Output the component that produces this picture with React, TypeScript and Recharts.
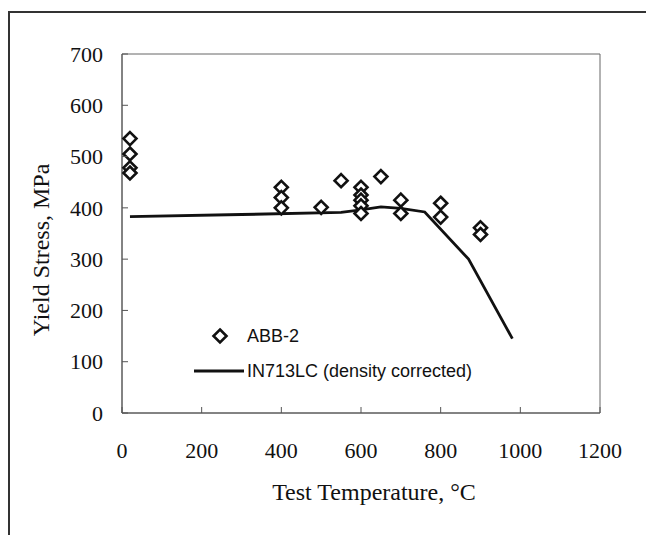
import { ComposedChart, Line, Scatter, XAxis, YAxis, ReferenceArea } from "recharts"

const xTicks = [0, 200, 400, 600, 800, 1000, 1200]
const yTicks = [0, 100, 200, 300, 400, 500, 600, 700]

// ABB-2 measured yield stress (temperature, MPa)
const abbTemps = [20, 20, 20, 20, 400, 400, 400, 500, 550, 600, 600, 600, 600, 600, 650, 700, 700, 800, 800, 900, 900]
const abbStress = [535, 505, 478, 468, 440, 420, 400, 401, 453, 440, 425, 415, 404, 389, 461, 415, 389, 409, 382, 361, 348]

// IN713LC density corrected curve
const inTemps = [20, 300, 550, 600, 650, 700, 760, 870, 980]
const inStress = [383, 387, 391, 396, 402, 399, 392, 300, 145]

const abbData = abbTemps.map((t, i) => ({ t, s: abbStress[i] }))
const inData = inTemps.map((t, i) => ({ t, s: inStress[i] }))

const serif = "'Liberation Serif', 'Times New Roman', serif"
const sans = "'Liberation Sans', Arial, sans-serif"

const Diamond = (props: any) => {
  const { cx, cy } = props
  const r = 6.5
  return (
    <polygon
      points={`${cx},${cy - r} ${cx + r},${cy} ${cx},${cy + r} ${cx - r},${cy}`}
      fill="#fff"
      stroke="#111"
      strokeWidth={2.6}
    />
  )
}

const XTick = (props: any) => {
  const { x, y, payload } = props
  return (
    <g>
      <line x1={x} y1={y} x2={x} y2={y - 6} stroke="#555" strokeWidth={1} />
      <text x={x} y={y + 37} dy="0.35em" textAnchor="middle" style={{ fontFamily: serif, fontSize: 22 }} fill="#111">
        {payload.value}
      </text>
    </g>
  )
}

const YTick = (props: any) => {
  const { x, y, payload } = props
  return (
    <g>
      <line x1={x} y1={y} x2={x + 6} y2={y} stroke="#555" strokeWidth={1} />
      <text x={x - 19} y={y} dy="0.35em" textAnchor="end" style={{ fontFamily: serif, fontSize: 22 }} fill="#111">
        {payload.value}
      </text>
    </g>
  )
}

const LegendBox = () => (
  <div style={{ position: "absolute", left: 192, top: 322, fontFamily: sans, fontSize: 18, color: "#111", lineHeight: "normal" }}>
    <div style={{ display: "flex", alignItems: "center", height: 28 }}>
      <svg width={56} height={20}>
        <polygon points="28,3.5 34.5,10 28,16.5 21.5,10" fill="#fff" stroke="#111" strokeWidth={2.6} />
      </svg>
      <span style={{ marginLeft: -1 }}>ABB-2</span>
    </div>
    <div style={{ display: "flex", alignItems: "center", height: 28, marginTop: 7 }}>
      <svg width={56} height={20}>
        <line x1={2} y1={10} x2={52} y2={10} stroke="#111" strokeWidth={3} />
      </svg>
      <span style={{ marginLeft: -1 }}>IN713LC (density corrected)</span>
    </div>
  </div>
)

export default function App() {
  return (
    <div style={{ position: "fixed", left: 0, top: 0, width: 646, height: 535, background: "#fff", overflow: "hidden" }}>
      <div
        style={{
          position: "absolute",
          left: 8,
          top: 11,
          width: 700,
          height: 600,
          borderLeft: "2px solid #333",
          borderTop: "2px solid #333",
        }}
      />
      <div style={{ position: "absolute", left: 0, top: 0 }}>
        <ComposedChart width={646} height={535} margin={{ top: 54, right: 46, left: 0, bottom: 0 }}>
          <XAxis
            type="number"
            dataKey="t"
            domain={[0, 1200]}
            ticks={xTicks}
            interval={0}
            height={122}
            tickSize={0}
            tickMargin={0}
            tickLine={false}
            axisLine={{ stroke: "#555", strokeWidth: 1 }}
            tick={<XTick />}
          />
          <YAxis
            type="number"
            dataKey="s"
            domain={[0, 700]}
            ticks={yTicks}
            interval={0}
            width={122}
            tickSize={0}
            tickMargin={0}
            tickLine={false}
            axisLine={{ stroke: "#555", strokeWidth: 1 }}
            tick={<YTick />}
          />
          <ReferenceArea x1={0} x2={1200} y1={0} y2={700} fill="none" stroke="#666" strokeWidth={1} ifOverflow="visible" />
          <Line
            data={inData}
            dataKey="s"
            name="IN713LC (density corrected)"
            type="linear"
            stroke="#111"
            strokeWidth={2.8}
            dot={false}
            activeDot={false}
            isAnimationActive={false}
          />
          <Scatter data={abbData} dataKey="s" name="ABB-2" shape={<Diamond />} isAnimationActive={false} />
        </ComposedChart>
      </div>
      <LegendBox />
      <div
        style={{
          position: "absolute",
          left: 374,
          top: 492,
          transform: "translate(-50%, -50%)",
          fontFamily: serif,
          fontSize: 24,
          color: "#111",
          whiteSpace: "nowrap",
        }}
      >
        Test Temperature, °C
      </div>
      <div
        style={{
          position: "absolute",
          left: 41,
          top: 250,
          transform: "translate(-50%, -50%) rotate(-90deg)",
          fontFamily: serif,
          fontSize: 24,
          color: "#111",
          whiteSpace: "nowrap",
        }}
      >
        Yield Stress, MPa
      </div>
    </div>
  )
}
